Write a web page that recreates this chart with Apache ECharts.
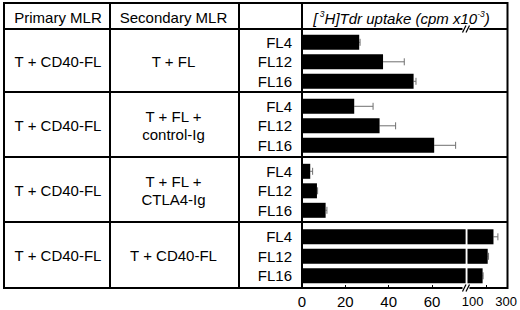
<!DOCTYPE html>
<html><head><meta charset="utf-8">
<script src="https://cdn.jsdelivr.net/npm/echarts@6/dist/echarts.min.js"></script>
<style>html,body{margin:0;padding:0;background:#fff}#c{width:520px;height:310px}</style>
</head><body><div id="c"></div>
<script>
// ---- data ----
const primaryMLR = ['T + CD40-FL', 'T + CD40-FL', 'T + CD40-FL', 'T + CD40-FL'];
const secondaryMLR = ['T + FL', 'T + FL +\ncontrol-Ig', 'T + FL +\nCTLA4-Ig', 'T + CD40-FL'];
const flLines = ['FL4', 'FL12', 'FL16'];
const uptakeTFL = [26.4, 37.4, 51.5];
const uptakeTFLControlIg = [24.1, 35.8, 61.0];
const uptakeTFLCTLA4Ig = [3.8, 6.9, 10.9];
const uptakeTCD40FL = [243, 209, 179];
const errTFL = [0.4, 9.8, 1.1];
const errTFLControlIg = [8.7, 7.4, 9.9];
const errTFLCTLA4Ig = [1.1, 0.3, 0.6];
const errTCD40FL = [26, 5, 3];
const lowTicks = [0, 20, 40, 60];
const highTickLabels = [100, 300];
const highTickMarks = [200];
const headerPrimary = 'Primary MLR';
const headerSecondary = 'Secondary MLR';

const groupMeans = [uptakeTFL, uptakeTFLControlIg, uptakeTFLCTLA4Ig, uptakeTCD40FL];
const groupErrs = [errTFL, errTFLControlIg, errTFLCTLA4Ig, errTCD40FL];

// ---- layout ----
const FONT = '"Liberation Sans", Arial, Helvetica, sans-serif';
const L = 4, R = 507.5, T = 3, B = 288;
const colX = [110, 239, 302];
const rowY = [29, 92, 157, 222, 288];
const seg1 = {left: 302, width: 163.6, max: 75.5};
const seg2 = {left: 467.5, width: 40.5, min: 90, max: 300};
const catStep = 19.5;

const grids = [], xAxes = [], yAxes = [], series = [];

function renderErr(params, api) {
  const m = api.value(0), e = api.value(1), c = api.value(2);
  const p0 = api.coord([m, c]);
  const p1 = api.coord([m + e, c]);
  const h = 3.5;
  const st = {stroke: '#707070', lineWidth: 1};
  return {type: 'group', children: [
    {type: 'line', shape: {x1: p0[0], y1: p0[1], x2: p1[0], y2: p1[1]}, style: st},
    {type: 'line', shape: {x1: p1[0], y1: p1[1] - h, x2: p1[0], y2: p1[1] + h}, style: st}
  ]};
}

for (let g = 0; g < 4; g++) {
  const center = (rowY[g] + rowY[g + 1]) / 2 + 1.3;
  const top = center - catStep * 1.5;
  const height = catStep * 3;
  const isLast = g === 3;
  const axisOffset = isLast ? B - (top + height) : 0;
  [seg1, seg2].forEach((seg, s) => {
    const idx = grids.length;
    grids.push({left: seg.left, top: top, width: seg.width, height: height, containLabel: false});
    const xa = {
      gridIndex: idx, type: 'value', min: s === 0 ? 0 : seg.min, max: seg.max,
      show: isLast, offset: axisOffset,
      axisLine: {show: false}, splitLine: {show: false},
      axisTick: {show: true, inside: true, length: 3, lineStyle: {color: '#000', width: 1},
        customValues: s === 0 ? lowTicks : highTickMarks},
      axisLabel: s === 0
        ? {customValues: lowTicks, fontSize: 15, color: '#000', fontFamily: FONT, margin: 6}
        : {customValues: highTickLabels, color: '#000', fontFamily: FONT, margin: 7,
           formatter: v => v === 100 ? '{a|' + v + '}' : '{b|' + v + '}',
           rich: {a: {fontSize: 13, fontFamily: FONT, color: '#000', padding: [0, 0, 0, 7]},
                  b: {fontSize: 13, fontFamily: FONT, color: '#000', padding: [0, 0, 0, 6]}}}
    };
    xAxes.push(xa);
    yAxes.push({
      gridIndex: idx, type: 'category', data: flLines, inverse: true, show: s === 0,
      axisLine: {show: false}, axisTick: {show: false},
      axisLabel: {interval: 0, hideOverlap: false, fontSize: 15, color: '#000', fontFamily: FONT, margin: 10}
    });
    series.push({
      type: 'bar', xAxisIndex: idx, yAxisIndex: idx, data: groupMeans[g],
      barWidth: 15, itemStyle: {color: '#000'}, clip: true, silent: true
    });
    series.push({
      type: 'custom', xAxisIndex: idx, yAxisIndex: idx, clip: true, silent: true,
      encode: {x: 0, y: 2},
      data: groupMeans[g].map((m, i) => [m, groupErrs[g][i], i]),
      renderItem: renderErr, z: 1
    });
  });
}

// ---- table graphics ----
const lineStyle = {stroke: '#000', lineWidth: 2};
const graphics = [];
function ln(x1, y1, x2, y2, st) {
  graphics.push({type: 'line', silent: true, shape: {x1, y1, x2, y2}, style: st || lineStyle, z: 10});
}
ln(L, T, R, T); ln(L, B, R, B); ln(L, T - 1, L, B + 1); ln(R, T - 1, R, B + 1);
colX.forEach(x => ln(x, T, x, B));
rowY.slice(0, 4).forEach(y => ln(L, y, R, y));

function breakMark(x, y) {
  graphics.push({type: 'rect', silent: true, shape: {x: x - 4, y: y - 1.5, width: 7, height: 3}, style: {fill: '#fff'}, z: 11});
  const st = {stroke: '#000', lineWidth: 1.2};
  graphics.push({type: 'line', silent: true, shape: {x1: x - 4, y1: y + 3.5, x2: x - 0.5, y2: y - 3.5}, style: st, z: 12});
  graphics.push({type: 'line', silent: true, shape: {x1: x - 0.5, y1: y + 3.5, x2: x + 3, y2: y - 3.5}, style: st, z: 12});
}
breakMark(466.5, rowY[0]);
breakMark(466.5, B);

function txt(text, x, y, extra) {
  graphics.push({type: 'text', silent: true, x: x, y: y, z: 12,
    style: Object.assign({text: text, fill: '#000', fontSize: 15, fontFamily: FONT,
      align: 'center', verticalAlign: 'middle', lineHeight: 18}, extra || {})});
}
const col1C = (L + colX[0]) / 2 + 1, col2C = (colX[0] + colX[1]) / 2 - 1;
txt(headerPrimary, col1C, (T + rowY[0]) / 2 + 1);
txt(headerSecondary, col2C, (T + rowY[0]) / 2 + 1);
for (let g = 0; g < 4; g++) {
  const cy = (rowY[g] + rowY[g + 1]) / 2 + 0.8;
  txt(primaryMLR[g], col1C, cy);
  txt(secondaryMLR[g], col2C, cy + (secondaryMLR[g].indexOf('\n') >= 0 ? 0.5 : 0));
}
graphics.push({type: 'text', silent: true, x: 401.5, y: 18, z: 12,
  style: {text: '{n|[}{s| 3}{n|H]Tdr uptake (cpm x10}{s|-3}{n|)}',
    align: 'center', verticalAlign: 'middle', fill: '#000',
    rich: {
      n: {fontSize: 15, fontStyle: 'italic', fontFamily: FONT, lineHeight: 17, fill: '#000'},
      s: {fontSize: 8.5, fontStyle: 'italic', fontFamily: FONT, lineHeight: 9, verticalAlign: 'top', fill: '#000'}
    }}});

const chart = echarts.init(document.getElementById('c'), null, {renderer: 'svg'});
chart.setOption({
  animation: false,
  backgroundColor: '#fff',
  grid: grids, xAxis: xAxes, yAxis: yAxes, series: series,
  graphic: graphics
});
</script></body></html>
